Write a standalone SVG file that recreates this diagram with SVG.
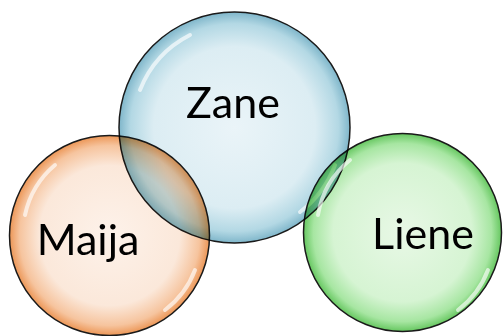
<svg xmlns="http://www.w3.org/2000/svg" width="503" height="336" viewBox="0 0 503 336">
<defs>
<radialGradient id="gb" cx="0.5" cy="0.5" r="0.5">
<stop offset="0" stop-color="#eaf4f8"/>
<stop offset="0.7" stop-color="#dcedf3"/>
<stop offset="0.9" stop-color="#b3d8e4"/>
<stop offset="1" stop-color="#7fb6ca"/>
</radialGradient>
<radialGradient id="go" cx="0.5" cy="0.5" r="0.5">
<stop offset="0" stop-color="#fdf2ea"/>
<stop offset="0.7" stop-color="#fbe8da"/>
<stop offset="0.9" stop-color="#f6c49e"/>
<stop offset="1" stop-color="#ec9656"/>
</radialGradient>
<radialGradient id="gg" cx="0.5" cy="0.5" r="0.5">
<stop offset="0" stop-color="#e8f8e6"/>
<stop offset="0.7" stop-color="#d6f4d3"/>
<stop offset="0.9" stop-color="#a7e6a2"/>
<stop offset="1" stop-color="#66c760"/>
</radialGradient>
<style>
.c{stroke:#1a1a1a;stroke-width:1.5}
.m{mix-blend-mode:multiply}
.h{fill:none;stroke:#ffffff;stroke-opacity:0.65;stroke-width:4;stroke-linecap:round}
.t{font-family:Lato,"Open Sans",sans-serif;font-size:43px;fill:#000}
</style>
</defs>
<g id="zane">
<circle class="c" cx="234.5" cy="127.5" r="115.5" fill="url(#gb)"/>
<path class="h" d="M140 90 A105 105 0 0 1 190 35"/>
<path class="h" d="M335 165 A105 105 0 0 1 300 212"/>
<text class="t" x="233" y="118" text-anchor="middle">Zane</text>
</g>
<g id="maija">
<circle class="c m" cx="109.5" cy="235.5" r="100" fill="url(#go)"/>
<path class="h" d="M25 215 A90 90 0 0 1 55 165"/>
<path class="h" d="M195 270 A90 90 0 0 1 165 310"/>
<text class="t" x="88" y="255" text-anchor="middle">Maija</text>
</g>
<g id="liene">
<circle class="c m" cx="402.5" cy="232.5" r="99" fill="url(#gg)"/>
<path class="h" d="M318 215 A90 90 0 0 1 350 160"/>
<path class="h" d="M488 270 A90 90 0 0 1 458 310"/>
<text class="t" x="423" y="249" text-anchor="middle">Liene</text>
</g>
<g id="connectors"/>
</svg>
